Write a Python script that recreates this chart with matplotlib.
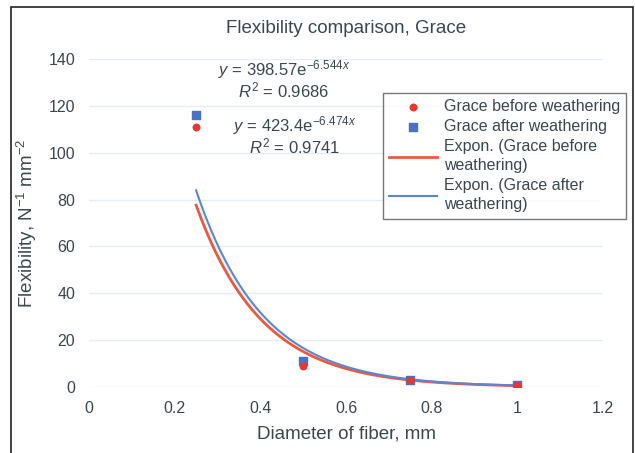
import numpy as np
import matplotlib
matplotlib.use("Agg")
import matplotlib.pyplot as plt
from matplotlib.patches import Rectangle

plt.rcParams["font.family"] = ["Liberation Sans", "DejaVu Sans"]
plt.rcParams["mathtext.fontset"] = "custom"
plt.rcParams["mathtext.rm"] = "Liberation Sans"
plt.rcParams["mathtext.it"] = "Liberation Sans:italic"

# data
diameter = [0.25, 0.5, 0.75, 1.0]
before_weathering = [111, 9, 3, 1]
after_weathering = [116, 11, 3, 1]

# trendline coefficients shown on the chart: y = a * exp(b * x)
fit_before = (398.57, -6.544, 0.9686)
fit_after = (423.4, -6.474, 0.9741)

x_ticks = [0, 0.2, 0.4, 0.6, 0.8, 1, 1.2]
x_tick_labels = ["0", "0.2", "0.4", "0.6", "0.8", "1", "1.2"]
y_ticks = [0, 20, 40, 60, 80, 100, 120, 140]

text_color = "#3b4750"
red = "#e8382e"
blue = "#4a72c4"

fig = plt.figure(figsize=(6.35, 4.53), dpi=100)
ax = fig.add_axes([0.1402, 0.1457, 0.8094, 0.7241])

xs = np.linspace(min(diameter), max(diameter), 200)
line_b, = ax.plot(xs, fit_before[0] * np.exp(fit_before[1] * xs), color="#f0583e", lw=2.0,
                  label="Expon. (Grace before\nweathering)")
line_a, = ax.plot(xs, fit_after[0] * np.exp(fit_after[1] * xs), color="#5a86d6", lw=1.5,
                  label="Expon. (Grace after\nweathering)")
pts_a = ax.scatter(diameter, after_weathering, marker="s", s=38, color=blue, zorder=3,
                   label="Grace after weathering")
pts_b = ax.scatter(diameter, before_weathering, marker="o", s=22, color=red, zorder=4,
                   label="Grace before weathering")

ax.set_xlim(0, 1.2)
ax.set_ylim(0, 140)
ax.set_xticks(x_ticks)
ax.set_xticklabels(x_tick_labels)
ax.set_yticks(y_ticks)
ax.tick_params(length=0, labelsize=11.5, labelcolor=text_color, pad=10)
ax.yaxis.grid(True, color="#e4edf5", lw=1)
ax.set_axisbelow(True)
for s in ax.spines.values():
    s.set_visible(False)

ax.set_xlabel("Diameter of fiber, mm", fontsize=13.5, color=text_color, labelpad=7)
ax.set_ylabel("Flexibility, N$^{-1}$ mm$^{-2}$", fontsize=13.5, color=text_color, labelpad=7)
ax.set_title("Flexibility comparison, Grace", fontsize=13.5, color=text_color, pad=19)

ax.text(0.455, 135.5, "$y$ = %.2fe$^{%.3fx}$" % (fit_before[0], fit_before[1]),
        fontsize=12, color=text_color, ha="center", va="center")
ax.text(0.455, 126.5, "$R^2$ = %.4f" % fit_before[2],
        fontsize=12, color=text_color, ha="center", va="center")
ax.text(0.48, 111.5, "$y$ = %.1fe$^{%.3fx}$" % (fit_after[0], fit_after[1]),
        fontsize=12, color=text_color, ha="center", va="center")
ax.text(0.48, 102.5, "$R^2$ = %.4f" % fit_after[2],
        fontsize=12, color=text_color, ha="center", va="center")

leg = ax.legend(handles=[pts_b, pts_a, line_b, line_a], loc="upper left",
                bbox_to_anchor=(0.572, 0.896), fontsize=11.5, frameon=True, fancybox=False,
                edgecolor="#555555", borderpad=0.4, labelspacing=0.3, handlelength=3,
                handletextpad=0.4, borderaxespad=0)
leg.get_frame().set_linewidth(1.0)
for t in leg.get_texts():
    t.set_color(text_color)
    t.set_linespacing(1.35)

fig.patches.append(Rectangle((11 / 635, -0.05), 622 / 635, 1 - 7 / 453 + 0.05,
                             transform=fig.transFigure, fill=False, edgecolor="#222222", lw=1.2))

fig.savefig("out.png", dpi=100)
